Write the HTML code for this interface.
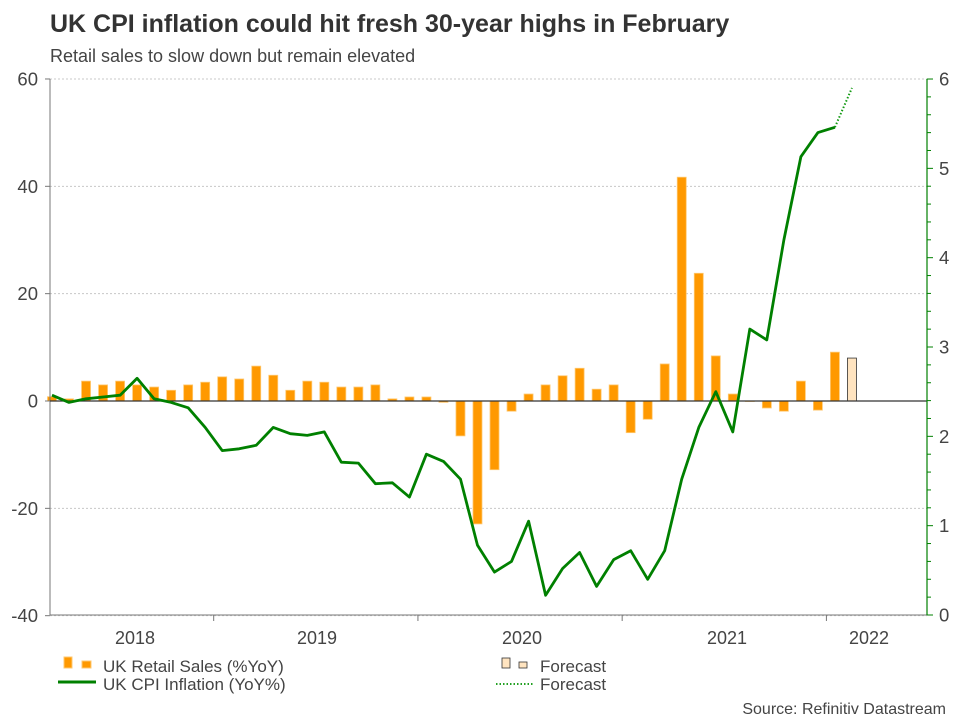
<!DOCTYPE html>
<html><head><meta charset="utf-8"><style>
body{margin:0;background:#fff;}
svg{display:block;font-family:"Liberation Sans",Arial,sans-serif;}
</style></head><body>
<svg id="chart" width="960" height="720" viewBox="0 0 960 720">
<text x="50" y="32" font-size="25" font-weight="bold" fill="#333">UK CPI inflation could hit fresh 30-year highs in February</text>
<text x="50" y="62" font-size="18" fill="#444">Retail sales to slow down but remain elevated</text>
<g id="grid"></g>
<g id="bars"></g>
<g id="axes"></g>
<g id="lines"></g>
<g>
<rect x="64" y="657" width="8" height="11" fill="#ff9900" stroke="#ffc870"/>
<rect x="82" y="661" width="9" height="7" fill="#ff9900" stroke="#ffc870"/>
<text x="103" y="672" font-size="17" fill="#444">UK Retail Sales (%YoY)</text>
<line x1="58" y1="682" x2="96" y2="682" stroke="#008000" stroke-width="3"/>
<text x="103" y="690" font-size="17" fill="#444">UK CPI Inflation (YoY%)</text>
<rect x="502" y="658" width="8" height="10" fill="#ffe4c0" stroke="#333" stroke-width="0.8"/>
<rect x="519" y="662" width="8" height="6" fill="#ffe4c0" stroke="#333" stroke-width="0.8"/>
<text x="540" y="672" font-size="17" fill="#444">Forecast</text>
<line x1="496" y1="684" x2="533" y2="684" stroke="#22a022" stroke-width="2" stroke-dasharray="1.5,2"/>
<text x="540" y="690" font-size="17" fill="#444">Forecast</text>
</g>
<text x="946" y="714" font-size="16" fill="#444" text-anchor="end">Source: Refinitiv Datastream</text>
</svg>
<script>
const retailSales = [0.8,0.4,3.7,3.0,3.7,3.0,2.6,2.0,3.0,3.5,4.5,4.1,6.5,4.8,2.0,3.7,3.5,2.6,2.6,3.0,0.4,0.75,0.75,-0.25,-6.5,-22.9,-12.8,-1.9,1.3,3.0,4.7,6.1,2.2,3.0,-5.9,-3.4,6.9,41.7,23.8,8.4,1.3,0,-1.3,-1.9,3.7,-1.7,9.1];
const retailForecast = 8.0;
const cpi = [2.46,2.38,2.42,2.44,2.46,2.65,2.42,2.38,2.32,2.1,1.84,1.86,1.9,2.1,2.03,2.01,2.05,1.71,1.7,1.47,1.48,1.32,1.8,1.72,1.52,0.78,0.48,0.6,1.05,0.22,0.52,0.7,0.32,0.62,0.72,0.4,0.72,1.52,2.1,2.5,2.05,3.2,3.08,4.2,5.13,5.4,5.46];
const cpiForecast = 5.9;
const leftTicks = [60,40,20,0,-20,-40];
const rightTicks = [0,1,2,3,4,5,6];
const yearLabels = ["2018","2019","2020","2021","2022"];
const yearLabelX = [135,317,522,727,869];
const yearBoundaryIdx = [9.5,21.5,33.5,45.5];

const NS="http://www.w3.org/2000/svg";
const X0=50,X1=927;
const xs=i=>52+17.02*i;
const yL=v=>401-v*5.367;
const yR=v=>615-v*89.33;
function mk(tag,attrs,parent){const e=document.createElementNS(NS,tag);for(const k in attrs)e.setAttribute(k,attrs[k]);parent.appendChild(e);return e;}
const grid=document.getElementById('grid'),bars=document.getElementById('bars'),axes=document.getElementById('axes'),lines=document.getElementById('lines');

leftTicks.forEach(v=>{
  if(v!==0){const g=mk('line',{x1:X0,x2:X1,y1:yL(v),y2:yL(v),stroke:'#c8c8c8','stroke-dasharray':'2,2'},grid);
  
  }
  const t=mk('line',{x1:45,x2:X0,y1:yL(v),y2:yL(v),stroke:'#777'},axes);
  
  
  const l=mk('text',{x:38,y:yL(v)+6.5,'font-size':18.5,fill:'#444','text-anchor':'end'},axes);
  l.textContent=v;
  
  
});
retailSales.forEach((v,i)=>{
  const y=Math.min(yL(v),yL(0)),h=Math.abs(yL(v)-yL(0));
  const b=mk('rect',{x:xs(i)-4.5,y:y,width:9,height:Math.max(h,0.5),fill:'#ff9900',stroke:'#ffc870','stroke-width':0.8},bars);
  
  
});
{const i=retailSales.length;const b=mk('rect',{x:xs(i)-4.5,y:yL(retailForecast),width:9,height:yL(0)-yL(retailForecast),fill:'#ffe4c0',stroke:'#333','stroke-width':0.8},bars);

}
let a=mk('line',{x1:X0,x2:X0,y1:79,y2:615,stroke:'#777'},axes);


a=mk('line',{x1:X0,x2:X1,y1:615,y2:615,stroke:'#777'},axes);


a=mk('line',{x1:X0,x2:X1,y1:401,y2:401,stroke:'#333','stroke-width':1.2},axes);


a=mk('line',{x1:X1,x2:X1,y1:79,y2:615,stroke:'#008000','stroke-width':1.2},axes);


for(let k=0;k<=30;k++){const v=k*0.2;const t=mk('line',{x1:X1,x2:k%5===0?X1+6:X1+4,y1:yR(v),y2:yR(v),stroke:'#008000'},axes);

}
rightTicks.forEach(v=>{const l=mk('text',{x:939,y:yR(v)+6.5,'font-size':18.5,fill:'#444'},axes);l.textContent=v;

});
yearBoundaryIdx.forEach(b=>{const t=mk('line',{x1:xs(b),x2:xs(b),y1:615,y2:621,stroke:'#777'},axes);

});
yearLabels.forEach((s,i)=>{const l=mk('text',{x:yearLabelX[i],y:644,'font-size':18,fill:'#444','text-anchor':'middle'},axes);l.textContent=s;

});
const pts=cpi.map((v,i)=>xs(i).toFixed(1)+','+yR(v).toFixed(1)).join(' ');
const pl=mk('polyline',{points:pts,fill:'none',stroke:'#008000','stroke-width':2.8,'stroke-linejoin':'round'},lines);


const n=cpi.length;
const fl=mk('line',{x1:xs(n-1),y1:yR(cpi[n-1]),x2:xs(n),y2:yR(cpiForecast),stroke:'#119911','stroke-width':2,'stroke-dasharray':'1.5,2'},lines);


</script>
</body></html>
